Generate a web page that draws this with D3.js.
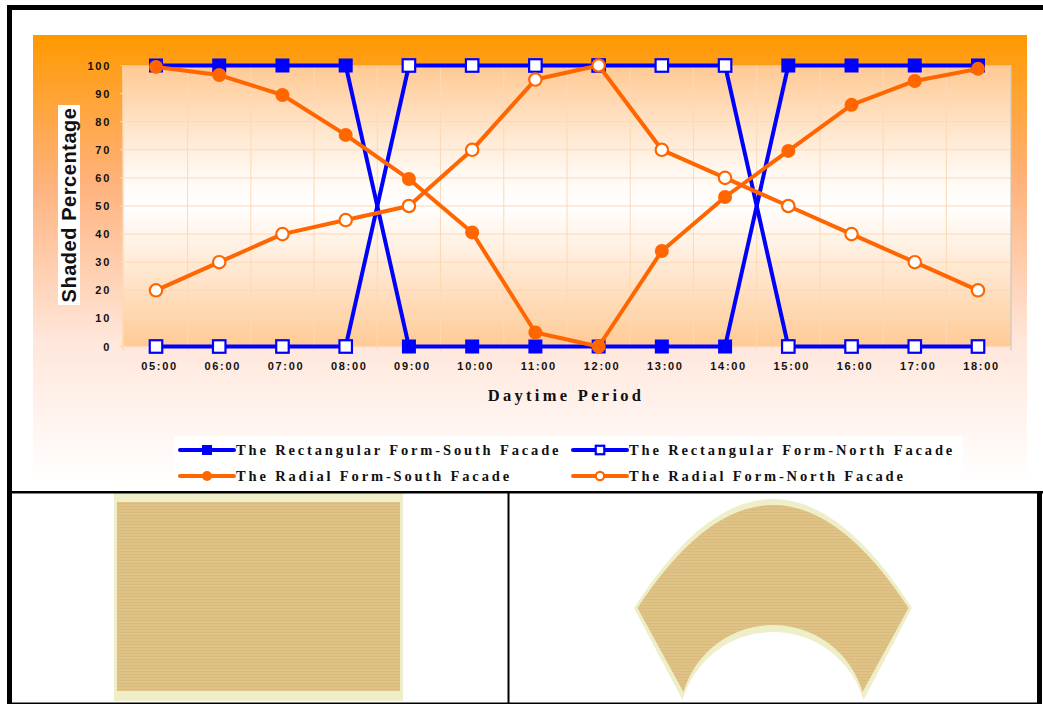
<!DOCTYPE html>
<html>
<head>
<meta charset="utf-8">
<script src="https://cdn.jsdelivr.net/npm/d3@7/dist/d3.min.js"></script>
<style>
html,body{margin:0;padding:0;background:#fff}
svg{display:block}
</style>
</head>
<body>
<svg id="chart" width="1043" height="704"></svg>
<script>
const hours = ["05:00","06:00","07:00","08:00","09:00","10:00","11:00","12:00","13:00","14:00","15:00","16:00","17:00","18:00"];
const yTicks = [0,10,20,30,40,50,60,70,80,90,100];
const rectSouth = [100,100,100,100,0,0,0,0,0,0,100,100,100,100];
const rectNorth = [0,0,0,0,100,100,100,100,100,100,0,0,0,0];
const radialSouth = [99.5,96.6,89.5,75.3,59.6,40.6,5,0,34,53.2,69.6,86,94.5,98.8];
const radialNorth = [20,30,40,45,50,70,95,100,70,60,50,40,30,20];
const seriesNames = ["The Rectangular Form-South Facade","The Rectangular Form-North Facade","The Radial Form-South Facade","The Radial Form-North Facade"];
const seriesValues = [rectSouth,rectNorth,radialSouth,radialNorth];
const seriesColors = ["#0000ff","#0000ff","#ff6600","#ff6600"];
const seriesMarkers = ["square","square","circle","circle"];
const seriesFilled = [true,false,true,false];

const svg = d3.select("#chart");
const defs = svg.append("defs");

function vGradient(id, stops){
  const g = defs.append("linearGradient").attr("id",id).attr("x1",0).attr("y1",0).attr("x2",0).attr("y2",1);
  stops.forEach(([o,c])=>g.append("stop").attr("offset",o).attr("stop-color",c));
}
vGradient("panelFill",[[0,"#ff9900"],[0.33,"#ffb27c"],[0.68,"#ffe6da"],[1,"#ffffff"]]);
vGradient("plotFill",[[0,"#ffc993"],[0.38,"#fff8f1"],[0.5,"#ffffff"],[0.62,"#fff3e7"],[1,"#ffca96"]]);

// Fine horizontal hatching used on the two floor plans
const hatch = defs.append("pattern").attr("id","hatch").attr("patternUnits","userSpaceOnUse").attr("width",4).attr("height",3);
hatch.append("rect").attr("width",4).attr("height",3).attr("fill","#dfc284");
hatch.append("rect").attr("y",2).attr("width",4).attr("height",1).attr("fill","#d8bb80");

// Chart panel
svg.append("rect").attr("x",33).attr("y",35).attr("width",994).attr("height",447).attr("fill","url(#panelFill)");

const x = d3.scalePoint().domain(hours).range([156,978]);
const y = d3.scaleLinear().domain([0,100]).range([346.5,65.5]);
const step = x.step();
const plotL = 123, plotR = 1011;

svg.append("rect").attr("x",plotL).attr("y",y(100)).attr("width",plotR-plotL).attr("height",y(0)-y(100)).attr("fill","url(#plotFill)");

// Grid
const grid = svg.append("g").attr("stroke","#fdd9b5").attr("stroke-width",1);
grid.selectAll(".h").data(yTicks.slice(1,-1)).join("line").attr("x1",plotL-3).attr("x2",plotR).attr("y1",d=>y(d)).attr("y2",d=>y(d));
grid.selectAll(".v").data(hours.slice(0,-1)).join("line").attr("x1",d=>x(d)+step/2).attr("x2",d=>x(d)+step/2).attr("y1",y(100)).attr("y2",y(0)+4);

// Plot frame
svg.append("path").attr("fill","none").attr("stroke","#c9c9c4").attr("stroke-width",1.2)
  .attr("d",`M${plotL-3},${y(100)}H${plotR}V${y(0)+4}`);
svg.append("path").attr("fill","none").attr("stroke","#ffd9b3").attr("stroke-width",1.5)
  .attr("d",`M${plotL},${y(100)}V${y(0)+4}M${plotL-3},${y(0)}H${plotR}`);

// Axes
const tickFont = "'Liberation Sans', Arial, sans-serif";
const yAxis = svg.append("g").attr("transform",`translate(${plotL},0)`)
  .call(d3.axisLeft(y).tickValues(yTicks).tickSize(0).tickPadding(12));
const xAxis = svg.append("g").attr("transform",`translate(3,${y(0)})`)
  .call(d3.axisBottom(x).tickSize(0).tickPadding(16));
[yAxis,xAxis].forEach(a=>{
  a.select(".domain").remove();
  a.selectAll("text").attr("fill","#111").attr("font-family",tickFont).attr("font-weight","bold").attr("font-size",11).attr("letter-spacing",1.7);
});

// Axis titles
svg.append("rect").attr("x",58).attr("y",105).attr("width",22).attr("height",200).attr("fill","#fff");
svg.append("text").attr("transform","translate(75.5,205) rotate(-90)").attr("text-anchor","middle")
  .attr("font-family",tickFont).attr("font-weight","bold").attr("font-size",20).attr("letter-spacing",0.55).attr("fill","#111")
  .text("Shaded Percentage");
const serif = "'Liberation Serif', 'Times New Roman', serif";
svg.append("text").attr("x",566).attr("y",401).attr("text-anchor","middle")
  .attr("font-family",serif).attr("font-weight","bold").attr("font-size",16.5).attr("letter-spacing",3.3).attr("fill","#111")
  .text("Daytime Period");

// Series lines and markers
function drawMarker(g, i, cx, cy, size){
  const c = seriesColors[i], filled = seriesFilled[i];
  if(seriesMarkers[i]==="square"){
    const s = filled ? size : size-1.5;
    g.append("rect").attr("x",cx-s/2).attr("y",cy-s/2).attr("width",s).attr("height",s)
      .attr("fill",filled?c:"#fff").attr("stroke",filled?"none":c).attr("stroke-width",filled?0:2.2);
  } else {
    const r = filled ? size/2 : size/2-0.8;
    g.append("circle").attr("cx",cx).attr("cy",cy).attr("r",r)
      .attr("fill",filled?c:"#fff").attr("stroke",filled?"none":c).attr("stroke-width",filled?0:2.2);
  }
}
const line = d3.line().x((d,i)=>x(hours[i])).y(d=>y(d));
seriesValues.forEach((vals,i)=>{
  const g = svg.append("g");
  g.append("path").attr("d",line(vals)).attr("fill","none").attr("stroke",seriesColors[i]).attr("stroke-width",4).attr("stroke-linejoin","round");
  vals.forEach((v,k)=>drawMarker(g,i,x(hours[k]),y(v),14));
});

// Legend
svg.append("rect").attr("x",174).attr("y",436).attr("width",789).attr("height",53).attr("fill","#fff");
const legendCols = [180,573], legendRows = [450,476];
seriesNames.forEach((name,i)=>{
  const lx = legendCols[i%2], ly = legendRows[i>>1];
  const g = svg.append("g");
  g.append("line").attr("x1",lx).attr("x2",lx+54).attr("y1",ly).attr("y2",ly).attr("stroke",seriesColors[i]).attr("stroke-width",4).attr("stroke-linecap","round");
  drawMarker(g,i,lx+27,ly,10);
  g.append("text").attr("x",lx+56).attr("y",ly+4.5)
    .attr("font-family",serif).attr("font-weight","bold").attr("font-size",14.5).attr("letter-spacing",2.85).attr("fill","#111")
    .text(name);
});

// Floor plans under the chart
const plans = svg.append("g");
plans.append("rect").attr("x",114).attr("y",493).attr("width",289).attr("height",208).attr("fill","#eeeec8");
plans.append("rect").attr("x",117).attr("y",502).attr("width",283).attr("height",189).attr("fill","url(#hatch)");

// Curved plan: parabolic outer edge, straight cut to each tip, circular inner arch
function fanPath(outerHalf, outerCrown, tipHalf, tipY, innerCrown){
  const cx = 773, shoulderY = 608;
  const sag = tipY - innerCrown;
  const r = (tipHalf*tipHalf + sag*sag)/(2*sag);
  const a = Math.atan2(tipY-(innerCrown+r), tipHalf);
  const p = d3.path();
  p.moveTo(cx-outerHalf, shoulderY);
  p.quadraticCurveTo(cx, 2*outerCrown-shoulderY, cx+outerHalf, shoulderY);
  p.lineTo(cx+tipHalf, tipY);
  p.arc(cx, innerCrown+r, r, a, Math.PI-a, true);
  p.closePath();
  return p.toString();
}
plans.append("path").attr("d",fanPath(139,499,90.5,700,632)).attr("fill","#eeeec8");
plans.append("path").attr("d",fanPath(135.5,505,89.5,692,625)).attr("fill","url(#hatch)");

// Page rules
const rules = svg.append("g").attr("fill","#000");
[[7,5,5,699],[7,5,1036,5],[12,491,1031,2.5],[507.5,493,2,211],[1037,493,5,211],[12,702.5,1030,1.5]]
  .forEach(([rx,ry,w,h])=>rules.append("rect").attr("x",rx).attr("y",ry).attr("width",w).attr("height",h));
</script>
</body>
</html>
